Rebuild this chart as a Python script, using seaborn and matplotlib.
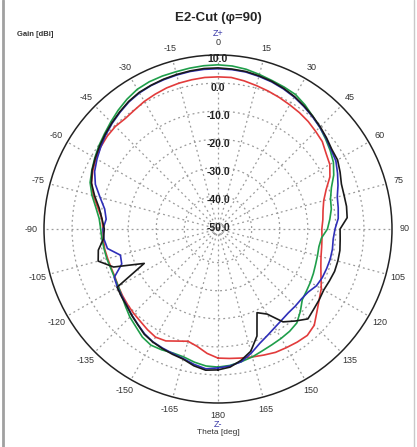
import numpy as np
import pandas as pd
import matplotlib
matplotlib.use("Agg")
import matplotlib.pyplot as plt
import seaborn as sns

# Theta grid, degrees (0 = Z+, clockwise positive)
theta_deg = list(range(-180, 181, 5))

# Gain [dBi], one value per 5 degrees from -180 to 180
gain_red = [-6.0, -7.5, -9.5, -10.6, -9.5, -8.0, -7.5, -8.2, -9.0, -9.5,
            -10.0, -10.5, -11.0, -11.5, -11.5, -11.3, -11.0, -11.0, -11.0, -10.5,
            -8.5, -6.0, -4.0, -2.8, -1.8, -1.0, -0.5, -0.3, -0.6, -0.2,
            0.5, 1.0, 1.5, 1.8, 2.0, 2.2, 2.2, 2.2, 1.6, 0.9,
            0.3, -0.3, -0.9, -1.4, -2.0, -2.8, -3.5, -5.0, -6.0, -8.0,
            -11.0, -13.0, -14.0, -14.5, -15.0, -14.8, -14.5, -14.0, -13.0, -11.5,
            -9.5, -8.0, -6.0, -3.5, -2.5, -2.8, -3.2, -3.5, -4.2, -4.8,
            -5.3, -5.7, -6.0]
gain_green = [-2.8, -3.0, -3.8, -4.8, -5.0, -4.5, -4.2, -5.0, -6.5, -7.6,
              -9.0, -10.2, -11.0, -11.3, -11.3, -11.0, -10.8, -10.5, -10.2, -9.5,
              -7.8, -5.5, -3.5, -2.4, -1.3, -0.2, 0.8, 2.0, 3.3, 4.5,
              5.5, 5.9, 6.0, 6.0, 6.2, 6.4, 6.5, 6.3, 5.8, 5.0,
              4.3, 3.8, 3.3, 2.0, 0.5, -0.7, -2.0, -3.2, -4.5, -6.5,
              -9.0, -10.5, -11.0, -12.0, -13.0, -15.0, -15.5, -15.3, -15.0, -14.5,
              -14.0, -13.5, -12.8, -10.5, -8.3, -7.5, -7.0, -6.5, -5.8, -4.8,
              -4.0, -3.2, -2.8]
gain_blue = [-2.5, -2.0, -3.0, -4.2, -4.8, -5.2, -5.6, -6.4, -7.6, -8.6,
             -9.6, -10.2, -10.6, -11.2, -15.5, -16.0, -12.0, -11.2, -11.0, -12.0,
             -11.0, -8.5, -5.5, -3.5, -2.2, -1.0, 0.2, 1.3, 2.3, 3.3,
             4.0, 4.4, 4.6, 4.8, 5.0, 5.1, 5.1, 5.0, 4.8, 4.3,
             3.8, 3.1, 2.3, 1.3, 0.3, -0.7, -1.7, -2.8, -3.5, -5.0,
             -6.5, -8.0, -8.5, -9.0, -10.3, -10.8, -10.6, -10.6, -10.8, -11.0,
             -11.5, -12.8, -13.2, -13.1, -13.0, -12.4, -11.5, -10.2, -8.6, -6.2,
             -4.0, -3.0, -2.5]
gain_black = [-1.8, -1.5, -2.5, -4.0, -4.5, -5.0, -5.5, -6.2, -7.5, -8.5,
              -9.5, -10.0, -10.5, -23.0, -12.4, -7.8, -8.7, -11.0, -11.5, -10.5,
              -9.0, -6.5, -4.0, -2.5, -1.5, -0.5, 0.5, 1.5, 2.5, 3.5,
              4.2, 4.5, 4.8, 5.0, 5.2, 5.4, 5.4, 5.2, 5.0, 4.5,
              4.0, 3.3, 2.5, 1.5, 0.5, -0.5, -1.5, -2.5, -2.8, -4.0,
              -5.2, -5.5, -5.5, -5.8, -8.5, -8.3, -7.9, -7.8, -7.8, -8.2,
              -8.5, -8.0, -7.5, -6.7, -9.2, -11.6, -17.0, -19.1, -11.4, -6.9,
              -4.5, -2.6, -1.8]

series_names = ["red", "green", "blue", "black"]
series_colors = ["#e23b3b", "#1f9e4a", "#2e2eb8", "#1a1a1a"]

rings = [-50, -40, -30, -20, -10, 0]
ring_labels = ["-50.0", "-40.0", "-30.0", "-20.0", "-10.0", "0.0"]
angle_ticks = list(range(0, 360, 15))
angle_labels = ["0", "15", "30", "45", "60", "75", "90", "105", "120", "135", "150", "165",
                "180", "-165", "-150", "-135", "-120", "-105", "-90", "-75", "-60", "-45", "-30", "-15"]

df = pd.concat([
    pd.DataFrame({"theta": np.deg2rad(theta_deg), "gain": g, "series": n})
    for n, g in zip(series_names, [gain_red, gain_green, gain_blue, gain_black])
], ignore_index=True)

sns.set_style("white")
plt.rcParams["font.family"] = ["Liberation Sans", "DejaVu Sans"]

W, H = 417, 447
fig = plt.figure(figsize=(W / 100, H / 100), dpi=100)
ax = fig.add_axes([44 / W, 1 - 403 / H, 348 / W, 348 / H], projection="polar")
ax.set_theta_zero_location("N")
ax.set_theta_direction(-1)
ax.set_rlim(-52, 10)

sns.lineplot(data=df, x="theta", y="gain", hue="series", palette=series_colors,
             sort=False, estimator=None, legend=False, lw=1.2, ax=ax)

ax.set_xlabel("")
ax.set_ylabel("")
ax.set_xticks(np.deg2rad(angle_ticks))
ax.set_xticklabels([])
ax.set_yticks(rings)
ax.set_yticklabels([])
ax.grid(True, color="#9a9a9a", linestyle=(0, (1.5, 2.5)), linewidth=0.9)
ax.spines["polar"].set_color("#222222")
ax.spines["polar"].set_linewidth(1.1)

# radial labels along the 0 deg spoke
for r, lab in zip(rings + [10], ring_labels + ["10.0"]):
    ax.text(0, r - 1.6, lab, ha="center", va="center", fontsize=7.5,
            fontweight="bold", color="#222222")

# angle labels outside the ring
for a, lab in zip(angle_ticks, angle_labels):
    ax.text(np.deg2rad(a), 14.5, lab, ha="center", va="center", fontsize=6.5,
            color="#333333", clip_on=False)
ax.text(0, 17.8, "Z+", ha="center", va="center", fontsize=6.5, color="#3a3aa8", clip_on=False)
ax.text(np.pi, 17.5, "Z-", ha="center", va="center", fontsize=6.5, color="#3a3aa8", clip_on=False)

fig.text(218 / W, 1 - 18 / H, "E2-Cut (\u03c6=90)", ha="center", va="center",
         fontsize=9.5, fontweight="bold")
fig.text(17 / W, 1 - 35 / H, "Gain [dBi]", ha="left", va="center", fontsize=5.5,
         fontweight="bold", color="#333333")
fig.text(218 / W, 1 - 433 / H, "Theta [deg]", ha="center", va="center", fontsize=6,
         color="#333333")

# frame lines at the picture edges
fig.add_artist(plt.Line2D([3 / W, 3 / W], [0, 1], color="#a0a0a0", lw=2))
fig.add_artist(plt.Line2D([414 / W, 414 / W], [0, 1], color="#c8c8c8", lw=1))

fig.savefig("out.png", dpi=100)
